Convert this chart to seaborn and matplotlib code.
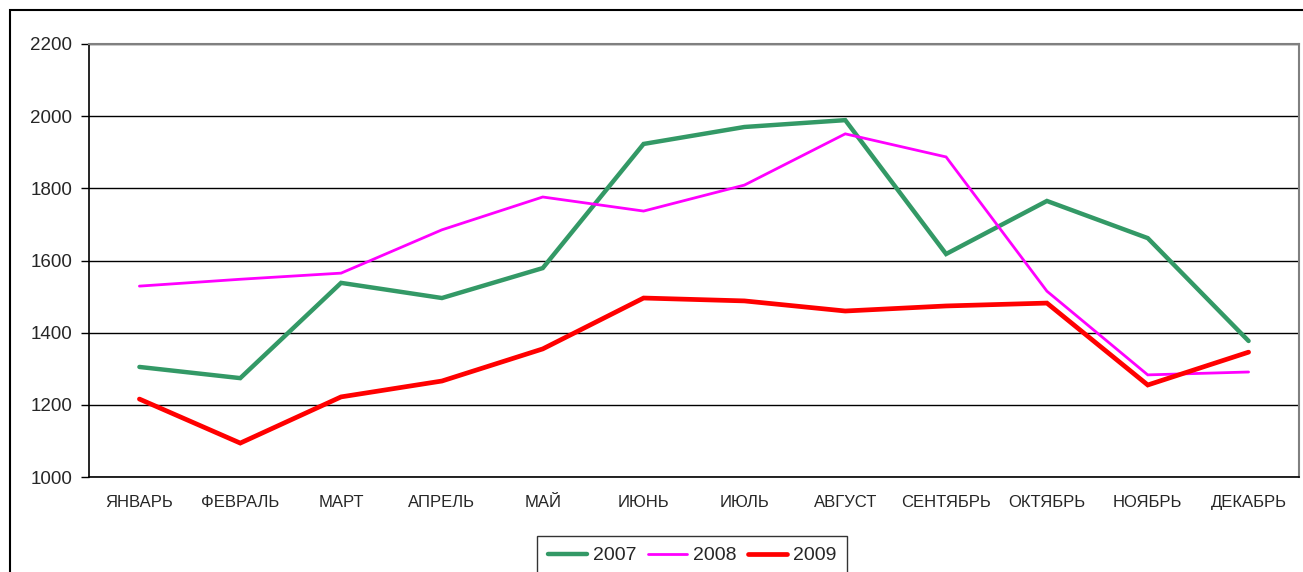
import numpy as np
import pandas as pd
import matplotlib
matplotlib.use("Agg")
import matplotlib.pyplot as plt
import seaborn as sns
from matplotlib.patches import Rectangle
from matplotlib.ticker import FixedLocator

months = ["ЯНВАРЬ", "ФЕВРАЛЬ", "МАРТ", "АПРЕЛЬ", "МАЙ", "ИЮНЬ",
          "ИЮЛЬ", "АВГУСТ", "СЕНТЯБРЬ", "ОКТЯБРЬ", "НОЯБРЬ", "ДЕКАБРЬ"]
v2007 = [1305, 1274, 1538, 1496, 1579, 1923, 1970, 1989, 1618, 1765, 1662, 1377]
v2008 = [1529, 1548, 1565, 1685, 1776, 1737, 1809, 1951, 1887, 1515, 1283, 1291]
v2009 = [1216, 1094, 1222, 1266, 1355, 1496, 1488, 1460, 1474, 1482, 1255, 1346]
years = ["2007", "2008", "2009"]
yticks = [1000, 1200, 1400, 1600, 1800, 2000, 2200]

sns.set_style("white")
plt.rcParams['font.family'] = ['Liberation Sans', 'DejaVu Sans']

rows = []
for yr, vals in zip(years, [v2007, v2008, v2009]):
    for i, (m, v) in enumerate(zip(months, vals)):
        rows.append({"month": m, "pos": i, "year": yr, "value": v})
df = pd.DataFrame(rows)

W, H = 1303, 572
fig = plt.figure(figsize=(W / 100, H / 100), dpi=100)
ax = fig.add_axes([89 / W, 1 - 477 / H, (1299 - 89) / W, (477 - 44) / H])

palette = {"2007": "#339966", "2008": "#FF00FF", "2009": "#FF0000"}
widths = {"2007": 3.2, "2008": 2.0, "2009": 3.4}
for yr in years:
    sub = df[df.year == yr]
    sns.lineplot(data=sub, x="pos", y="value", ax=ax, color=palette[yr],
                 linewidth=widths[yr], label=yr, legend=False,
                 solid_joinstyle="miter", zorder=3)

ax.set_xlim(-0.5, len(months) - 0.5)
ax.set_ylim(yticks[0], yticks[-1])
ax.set_yticks(yticks)
ax.set_yticklabels([str(t) for t in yticks], fontsize=13.5)
ax.set_xticks(range(len(months)))
ax.set_xticklabels(months, fontsize=12)
ax.xaxis.set_minor_locator(FixedLocator(np.arange(-0.5, len(months), 1.0)))
ax.tick_params(axis="x", which="major", length=0, pad=13)
ax.tick_params(axis="x", which="minor", length=5, width=1, color="black", direction="out")
ax.tick_params(axis="y", which="major", length=6, width=1, color="black", direction="out", pad=6,
               left=True)
ax.set_xlabel("")
ax.set_ylabel("")
ax.grid(True, axis="y", color="black", linewidth=1)
ax.grid(False, axis="x")
for s in ["left", "bottom"]:
    ax.spines[s].set_color("black")
    ax.spines[s].set_linewidth(1.2)
for s in ["top", "right"]:
    ax.spines[s].set_color("#808080")
    ax.spines[s].set_linewidth(1.5)
ax.set_axisbelow(True)

handles, labels = ax.get_legend_handles_labels()
leg = fig.legend(handles, labels, loc="upper center", ncol=3,
                 bbox_to_anchor=(692 / W, 1 - 536 / H), fontsize=14,
                 frameon=True, fancybox=False, shadow=False,
                 handlelength=2.0, handletextpad=0.3, columnspacing=0.6,
                 borderpad=0.55, borderaxespad=0)
leg.get_frame().set_edgecolor("black")
leg.get_frame().set_linewidth(1.0)

fig.patches.append(Rectangle((10 / W, -0.2), 1.2, 1.2 - 10 / H,
                             transform=fig.transFigure, fill=False,
                             edgecolor="black", linewidth=1.5, clip_on=False))

fig.savefig("out.png", dpi=100)
